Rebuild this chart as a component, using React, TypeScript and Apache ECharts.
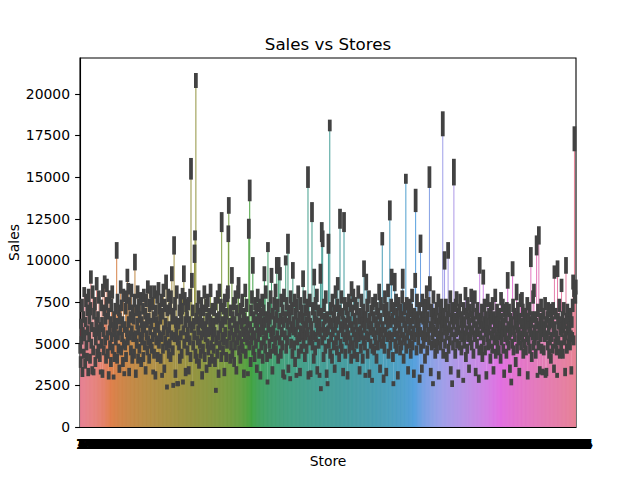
import { useEffect, useRef } from "react";
import * as echarts from "echarts";

// mean sales per store, in hundreds (store 1 .. 1115)
const salesMean = [
  47, 39, 62, 52, 73, 33, 57, 66, 44, 81, 55, 38, 63, 76, 49, 42, 70, 58, 33, 79,
  54, 65, 41, 71, 90, 50, 60, 34, 81, 46, 33, 68, 57, 74, 39, 52, 63, 86, 44, 58,
  66, 47, 78, 55, 42, 60, 33, 73, 50, 63, 32, 82, 57, 46, 70, 87, 52, 65, 41, 74,
  85, 55, 44, 68, 31, 78, 58, 49, 63, 39, 73, 54, 81, 47, 60, 30, 66, 42, 57, 71,
  52, 62, 106, 41, 76, 55, 47, 70, 35, 65, 58, 84, 46, 73, 54, 63, 39, 79, 50, 32,
  60, 49, 71, 42, 78, 57, 91, 52, 83, 63, 33, 74, 55, 66, 46, 82, 58, 41, 70, 54,
  65, 44, 76, 99, 55, 32, 70, 50, 62, 81, 41, 58, 73, 47, 66, 54, 77, 39, 63, 52,
  57, 71, 42, 79, 60, 49, 68, 34, 76, 55, 63, 46, 84, 52, 65, 41, 73, 58, 50, 81,
  62, 47, 74, 54, 33, 66, 44, 81, 57, 31, 70, 52, 63, 78, 42, 60, 83, 50, 71, 55,
  65, 41, 76, 54, 31, 68, 47, 82, 58, 35, 73, 52, 62, 87, 49, 24, 70, 57, 79, 44,
  60, 50, 71, 42, 78, 55, 92, 65, 46, 25, 68, 109, 54, 74, 32, 63, 57, 81, 26, 52,
  26, 62, 49, 70, 41, 76, 55, 65, 44, 71, 80, 27, 58, 92, 50, 77, 63, 33, 73, 54,
  66, 46, 57, 74, 34, 63, 52, 79, 42, 155, 60, 88, 26, 70, 49, 62, 55, 104, 115, 44,
  208, 65, 41, 71, 52, 58, 78, 38, 63, 50, 68, 44, 74, 55, 31, 62, 47, 70, 57, 81,
  42, 60, 54, 73, 35, 65, 50, 76, 46, 57, 68, 39, 63, 82, 49, 58, 41, 71, 54, 62,
  47, 70, 57, 39, 74, 22, 52, 65, 44, 78, 55, 32, 66, 82, 49, 60, 73, 42, 123, 54,
  63, 46, 71, 52, 33, 76, 57, 65, 42, 68, 50, 79, 81, 116, 133, 55, 62, 41, 70, 49,
  58, 91, 44, 66, 54, 74, 39, 63, 49, 78, 57, 34, 70, 52, 60, 81, 85, 46, 65, 55,
  41, 71, 50, 62, 76, 47, 57, 68, 32, 65, 54, 82, 44, 58, 73, 52, 63, 32, 55, 119,
  49, 142, 60, 39, 70, 52, 78, 57, 97, 46, 66, 55, 42, 74, 63, 50, 71, 35, 60, 79,
  54, 65, 44, 73, 57, 31, 68, 49, 62, 76, 41, 58, 70, 52, 92, 63, 47, 81, 55, 66,
  42, 27, 108, 60, 71, 50, 65, 44, 78, 57, 91, 54, 34, 68, 58, 47, 74, 63, 52, 82,
  46, 66, 97, 55, 73, 41, 97, 62, 52, 92, 65, 44, 76, 57, 49, 70, 32, 63, 79, 30,
  55, 66, 100, 47, 74, 52, 62, 110, 35, 70, 57, 65, 29, 78, 50, 60, 71, 44, 94, 58,
  63, 49, 76, 39, 68, 57, 31, 73, 52, 62, 81, 44, 66, 54, 33, 74, 58, 47, 70, 55,
  65, 89, 50, 60, 78, 42, 70, 55, 63, 47, 73, 57, 150, 31, 66, 52, 76, 62, 32, 54,
  60, 129, 49, 71, 55, 41, 90, 66, 46, 74, 54, 63, 79, 34, 58, 70, 50, 62, 31, 57,
  92, 23, 68, 117, 52, 113, 60, 42, 73, 55, 65, 47, 78, 57, 32, 66, 26, 58, 110, 50,
  63, 181, 44, 71, 54, 62, 41, 76, 57, 66, 49, 70, 35, 60, 81, 52, 63, 46, 73, 86,
  55, 65, 42, 70, 125, 50, 60, 78, 47, 68, 57, 33, 63, 123, 54, 74, 44, 62, 71, 52,
  58, 31, 66, 55, 76, 47, 63, 73, 52, 41, 83, 60, 70, 49, 79, 57, 44, 65, 54, 74,
  62, 50, 71, 42, 57, 81, 54, 65, 34, 68, 58, 47, 76, 55, 63, 41, 70, 52, 95, 60,
  49, 31, 66, 87, 55, 73, 44, 62, 54, 78, 32, 65, 58, 50, 70, 60, 28, 47, 74, 57,
  66, 46, 55, 76, 52, 63, 41, 71, 58, 49, 68, 60, 81, 54, 35, 65, 74, 50, 57, 113,
  60, 52, 29, 70, 47, 78, 57, 65, 33, 71, 54, 62, 82, 44, 66, 55, 130, 49, 63, 73,
  90, 54, 65, 42, 26, 71, 57, 87, 50, 62, 76, 47, 68, 55, 31, 63, 74, 52, 60, 46,
  70, 57, 49, 66, 78, 89, 54, 41, 63, 71, 52, 60, 149, 47, 74, 55, 65, 34, 68, 58,
  50, 73, 62, 44, 70, 55, 79, 49, 65, 58, 32, 68, 54, 88, 136, 63, 46, 76, 57, 66,
  52, 62, 71, 29, 57, 110, 47, 66, 35, 76, 55, 65, 50, 70, 60, 41, 73, 54, 63, 81,
  46, 66, 57, 74, 52, 150, 86, 60, 33, 70, 49, 63, 55, 26, 78, 58, 50, 68, 44, 65,
  57, 71, 47, 62, 52, 76, 31, 65, 55, 70, 49, 60, 73, 54, 63, 182, 44, 68, 58, 100,
  50, 63, 73, 55, 42, 66, 58, 106, 47, 70, 60, 52, 78, 34, 65, 57, 26, 71, 49, 62,
  153, 54, 65, 44, 73, 57, 77, 50, 62, 68, 32, 58, 70, 49, 76, 55, 63, 46, 66, 54,
  60, 28, 71, 50, 63, 55, 80, 42, 68, 58, 47, 74, 54, 65, 35, 62, 70, 52, 57, 79,
  49, 66, 58, 73, 44, 63, 54, 78, 55, 33, 68, 60, 50, 71, 57, 65, 29, 46, 97, 62,
  55, 65, 47, 70, 42, 60, 90, 52, 63, 73, 46, 57, 66, 31, 62, 54, 76, 49, 58, 68,
  50, 62, 41, 71, 55, 65, 47, 74, 57, 34, 66, 52, 60, 79, 44, 63, 54, 70, 49, 58,
  63, 46, 68, 55, 60, 41, 77, 52, 65, 57, 73, 47, 62, 32, 70, 54, 58, 66, 44, 71,
  52, 88, 60, 49, 70, 55, 35, 65, 57, 27, 63, 50, 95, 73, 46, 58, 68, 54, 62, 39,
  66, 81, 47, 60, 71, 52, 57, 33, 65, 55, 76, 49, 62, 77, 54, 70, 44, 58, 63, 50,
  57, 68, 46, 62, 54, 74, 31, 65, 52, 60, 71, 47, 57, 102, 63, 42, 66, 55, 78, 49,
  82, 58, 52, 66, 44, 62, 109, 55, 31, 70, 49, 115, 60, 34, 65, 54, 73, 47, 63, 33,
  57, 68, 46, 60, 54, 74, 32, 63, 33, 55, 66, 49, 71, 58, 44, 62, 52, 70, 41, 65,
  54, 63, 47, 71, 57, 35, 93, 60, 50, 68, 55, 46, 31, 95, 65, 52, 62, 73, 44, 58,
  63, 49, 85, 57, 66, 44, 60, 71, 52, 62, 33, 55, 97, 65, 47, 70, 58, 50, 63, 54,
  60, 49, 68, 55, 34, 63, 54, 73, 87, 52, 82, 173, 80, 78, 84,
];

// half width of the confidence interval per store, in hundreds
const salesCi = [
  3, 3.5, 3, 2.5, 4, 3, 3, 3.5, 3, 3, 3.5, 3, 3, 4, 3, 2.5, 3.5, 3, 2.5, 4,
  3, 3.5, 3, 4, 4, 3, 3, 2.5, 4, 3, 2, 3.5, 3, 4, 3, 3, 3, 4, 3, 3.5,
  3.5, 3, 4, 3, 3, 3, 1.5, 3.5, 3, 3, 2.5, 4, 3, 3, 3.5, 4, 3, 3.5, 3, 4,
  4, 3, 3, 3.5, 2.5, 4, 3, 3, 3.5, 3, 4, 3, 4, 3, 3, 1.5, 3.5, 3, 3, 3.5,
  3, 3.5, 5, 3, 4, 3, 3, 3.5, 2.5, 3.5, 3, 4, 3, 3.5, 3, 3.5, 3, 4, 3, 1.5,
  3.5, 3, 3.5, 3, 4, 3, 4, 3, 3.5, 3.5, 2.5, 4, 3, 3.5, 3, 4, 3, 3, 3.5, 3,
  3.5, 3, 4, 5, 3, 2.5, 3.5, 3, 3.5, 4, 3, 3, 4, 3, 3.5, 3, 4, 3, 3.5, 3,
  3, 3.5, 3, 4, 3.5, 3, 3.5, 2.5, 4, 3, 3.5, 3, 4, 3, 3.5, 3, 4, 3, 3, 4,
  3.5, 3, 4, 3, 1.5, 3.5, 3, 4, 3, 2.5, 3.5, 3, 3.5, 4, 3, 3.5, 4, 3, 3.5, 3,
  3.5, 3, 4, 3, 1.5, 3.5, 3, 4, 3, 2.5, 4, 3, 3.5, 4.5, 3, 1.5, 3.5, 3, 4, 3,
  3.5, 3, 3.5, 3, 4, 3, 4.5, 3.5, 3, 1.5, 3.5, 5.5, 3, 4, 2.5, 3.5, 3, 4, 1.5, 3,
  1.5, 3.5, 3, 3.5, 3, 4, 3, 3.5, 3, 3.5, 3.5, 1.5, 3, 5, 3, 4, 3.5, 2.5, 4, 3,
  3.5, 3, 3, 4, 2.5, 3.5, 3, 4, 3, 6.5, 3.5, 4.5, 1.5, 3.5, 3, 3.5, 3, 5.5, 3, 3,
  4.5, 3.5, 3, 3.5, 3, 3, 4, 3, 3.5, 3, 3.5, 3, 4, 3, 2.5, 3.5, 3, 3.5, 3, 4,
  3, 3.5, 3, 4, 2.5, 3.5, 3, 4, 3, 3, 3.5, 3, 3.5, 4, 3, 3, 3, 3.5, 3, 3.5,
  3, 3.5, 3, 3, 4, 1.5, 3, 3.5, 3, 4, 3, 2.5, 3.5, 4, 3, 3.5, 4, 3, 6, 3,
  3.5, 3, 3.5, 3, 2.5, 4, 3, 3.5, 3, 3.5, 3, 4, 4, 5, 5, 3, 3.5, 3, 3.5, 3,
  3, 5, 3, 3.5, 3, 4, 3, 3.5, 3, 4, 3, 2.5, 3.5, 3, 3.5, 4, 5, 3, 3.5, 3,
  3, 3.5, 3, 3.5, 4, 3, 3, 3.5, 2.5, 3.5, 3, 4, 3, 3, 4, 3, 3.5, 1.5, 3, 6,
  3, 6.5, 3.5, 3, 3.5, 3, 4, 3, 5, 3, 3.5, 3, 3, 4, 3.5, 3, 3.5, 2.5, 3.5, 4,
  3, 3.5, 3, 4, 3, 2.5, 3.5, 3, 3.5, 4, 3, 3, 3.5, 3, 4.5, 3.5, 3, 4, 3, 3.5,
  3, 1.5, 3, 3.5, 4, 3, 3.5, 3, 4, 3, 4.5, 3, 2.5, 3.5, 3, 3, 4, 3.5, 3, 4,
  3, 3.5, 5, 3, 4, 3, 5, 3.5, 3, 4, 3.5, 3, 4, 3, 3, 3.5, 2.5, 3.5, 4, 1.5,
  3, 3.5, 3, 3, 4, 3, 3.5, 6, 2.5, 3.5, 3, 3.5, 1.5, 4, 3, 3.5, 4, 3, 5, 3,
  3.5, 3, 4, 3, 3.5, 3, 1.5, 4, 3, 3.5, 4, 3, 3.5, 3, 2.5, 4, 3, 3, 3.5, 3,
  3.5, 5, 3, 3.5, 4, 3, 3.5, 3, 3.5, 3, 4, 3, 6.5, 2.5, 3.5, 3, 4, 3.5, 2, 3,
  3.5, 6, 3, 4, 3, 3, 5, 3.5, 3, 4, 3, 3.5, 4, 2.5, 3, 3.5, 3, 3.5, 1.5, 3,
  6, 1.5, 3.5, 6, 3, 5, 3.5, 3, 4, 3, 3.5, 3, 4, 3, 2.5, 3.5, 1.5, 3, 6, 3,
  3.5, 3.5, 3, 4, 3, 3.5, 3, 4, 3, 3.5, 3, 3.5, 2.5, 3.5, 4, 3, 3.5, 3, 4, 4,
  3, 3.5, 3, 3.5, 6, 3, 3.5, 4, 3, 3.5, 3, 2.5, 3.5, 6, 3, 4, 3, 3.5, 4, 3,
  3.5, 2.5, 3.5, 3, 4, 3, 3.5, 4, 3, 3, 4.5, 3.5, 3.5, 3, 4, 3, 3, 3.5, 3, 4,
  3.5, 3, 4, 3, 3, 4, 3, 3.5, 2.5, 3.5, 3, 3, 4, 3, 3.5, 3, 4, 3, 5, 3.5,
  3, 1.5, 3.5, 5, 3, 4, 3, 3.5, 3, 4, 2.5, 3.5, 3, 3, 3.5, 3.5, 1.5, 3, 4, 3,
  3.5, 3, 3, 4, 3, 3.5, 3, 4, 3, 3, 3.5, 3.5, 5, 3, 2.5, 3.5, 4, 3, 3, 4,
  3.5, 3, 2.5, 4, 3, 4, 3, 3.5, 2.5, 4, 3, 3.5, 4, 3, 3.5, 3, 6, 3, 3.5, 4,
  5, 3, 3.5, 3, 1.5, 4, 3, 5.5, 3, 3.5, 4, 3, 3.5, 3, 2.5, 3.5, 4, 3, 3.5, 3,
  4, 3.5, 3, 3.5, 4, 6, 3, 3, 3.5, 4, 3, 3.5, 3, 3, 4, 3, 3.5, 2.5, 3.5, 3,
  3, 4, 3.5, 3, 4, 3, 4, 3, 3.5, 3, 2.5, 3.5, 3, 4.5, 7, 3.5, 3, 4, 3, 3.5,
  3, 3.5, 4, 2.5, 3, 5.5, 3, 3.5, 2.5, 4, 3, 3.5, 3, 4, 3.5, 3, 4, 3, 3.5, 4,
  3, 3.5, 3, 4, 3, 6.5, 4.5, 3.5, 2.5, 4, 3, 3.5, 3, 1.5, 4, 3.5, 3, 3.5, 3, 3.5,
  3, 4, 3, 3.5, 3, 4, 2.5, 3.5, 3, 4, 3, 3.5, 4, 3, 3.5, 7.5, 3, 3.5, 3, 5.5,
  3, 3.5, 4, 3, 3, 3.5, 3, 5, 3, 4, 3.5, 3, 4, 2.5, 3.5, 3, 2, 4, 3, 3.5,
  8, 3, 3.5, 3, 4, 3, 4.5, 3, 3.5, 3.5, 2.5, 3, 4, 3, 4, 3, 3.5, 3, 3.5, 3,
  3.5, 1.5, 4, 3, 3.5, 3, 4, 3, 3.5, 3, 3, 4, 3, 3.5, 2.5, 3.5, 4, 3, 3, 4,
  3, 3.5, 3, 4, 3, 3.5, 3, 4, 3, 2.5, 3.5, 3.5, 3, 4, 3, 3.5, 2.5, 3, 5, 3.5,
  3, 3.5, 3, 4, 3, 3.5, 4.5, 3, 3.5, 4, 3, 3, 3.5, 2.5, 3.5, 3, 4, 3, 3, 3.5,
  3, 3.5, 3, 4, 3, 3.5, 3, 4, 3, 2.5, 3.5, 3, 3.5, 4, 3, 3.5, 3, 4, 3, 3,
  3.5, 3, 3.5, 3, 3.5, 3, 4, 3, 3.5, 3, 4, 3, 3.5, 2.5, 4, 3, 3, 3.5, 3, 4,
  3, 5, 3.5, 3, 4, 3, 2.5, 3.5, 3, 2, 3.5, 3, 4.5, 4, 3, 3, 3.5, 3, 3.5, 3,
  3.5, 5, 3, 3.5, 4, 3, 3, 2.5, 3.5, 3, 4, 3, 3.5, 4, 3, 4, 3, 3, 3.5, 3,
  3, 3.5, 3, 3.5, 3, 4, 2.5, 3.5, 3, 3.5, 4, 3, 3, 6, 3.5, 3, 3.5, 3, 4, 3,
  4, 3.5, 3, 3.5, 3, 3.5, 6, 3, 1.5, 4, 3, 5.5, 3.5, 2.5, 3.5, 3, 4, 3, 3.5, 2,
  3, 3.5, 3, 3.5, 3, 4, 2.5, 3.5, 2.5, 3, 3.5, 3, 4, 3, 3, 3.5, 3, 4, 3, 3.5,
  3, 3.5, 3, 4, 3, 2.5, 4, 3.5, 3, 3.5, 3, 3, 1.5, 5, 3.5, 3, 3.5, 4, 3, 3,
  3.5, 3, 4, 3, 3.5, 3, 3.5, 4, 3, 3.5, 2.5, 3, 5, 3.5, 3, 4, 3, 3, 3.5, 3,
  3.5, 3, 3.5, 3, 2.5, 3.5, 3, 4, 4.5, 3, 4, 7.5, 4, 4, 4.5,
];

const storeIds = salesMean.map((_, i) => String(i + 1));
const yTicks = [0, 2500, 5000, 7500, 10000, 12500, 15000, 17500, 20000];

// seaborn-like husl palette, desaturated to 0.75
const M = [
  [3.2406, -1.5372, -0.4986],
  [-0.9689, 1.8758, 0.0415],
  [0.0557, -0.204, 1.057],
];
const REF_U = 0.19784;
const REF_V = 0.46834;

function maxChroma(L: number, H: number) {
  const hrad = (H / 180) * Math.PI;
  const sinH = Math.sin(hrad);
  const cosH = Math.cos(hrad);
  const sub1 = Math.pow(L + 16, 3) / 1560896;
  const sub2 = sub1 > 0.008856 ? sub1 : L / 903.3;
  let result = Infinity;
  for (const [m1, m2, m3] of M) {
    const top = (0.99915 * m1 + 1.05122 * m2 + 1.1446 * m3) * sub2;
    const rbottom = 0.8633 * m3 - 0.17266 * m2;
    const lbottom = 0.12949 * m3 - 0.38848 * m1;
    const bottom = (rbottom * sinH + lbottom * cosH) * sub2;
    for (const t of [0, 1]) {
      const C = (L * (top - 1.05122 * t)) / (bottom + 0.17266 * sinH * t);
      if (C > 0 && C < result) result = C;
    }
  }
  return result;
}

function huslToRgb(H: number, S: number, L: number) {
  const C = (maxChroma(L, H) / 100) * S;
  const hrad = (H / 180) * Math.PI;
  const U = Math.cos(hrad) * C;
  const V = Math.sin(hrad) * C;
  const t = (L + 16) / 116;
  const varY = Math.pow(t, 3) > 0.008856 ? Math.pow(t, 3) : (116 * t - 16) / 903.3;
  const varU = U / (13 * L) + REF_U;
  const varV = V / (13 * L) + REF_V;
  const Y = varY;
  const X = 0 - (9 * Y * varU) / ((varU - 4) * varV - varU * varV);
  const Z = (9 * Y - 15 * varV * Y - varV * X) / (3 * varV);
  return M.map((row) => {
    const c = row[0] * X + row[1] * Y + row[2] * Z;
    const v = c <= 0.0031308 ? 12.92 * c : 1.055 * Math.pow(c, 1 / 2.4) - 0.055;
    return Math.min(1, Math.max(0, v));
  });
}

function barColor(i: number, n: number) {
  const h = ((i / n + 0.01) % 1) * 359;
  const rgb = huslToRgb(h, 0.9 * 99, 0.65 * 99);
  const light = (Math.max(...rgb) + Math.min(...rgb)) / 2;
  const out = rgb.map((c) => Math.round((light + 0.75 * (c - light)) * 255));
  return `rgb(${out[0]},${out[1]},${out[2]})`;
}

export default function App() {
  const chartRef = useRef<HTMLDivElement>(null);

  useEffect(() => {
    if (!chartRef.current) return;
    const chart = echarts.init(chartRef.current, null, { renderer: "svg" });
    const n = salesMean.length;
    const font = "DejaVu Sans";

    const option: echarts.EChartsOption = {
      animation: false,
      title: {
        text: "Sales vs Stores",
        left: 328,
        top: 35,
        padding: 0,
        textAlign: "center",
        textStyle: { fontFamily: font, fontSize: 16.7, fontWeight: "normal", color: "#000" },
      },
      grid: {
        left: 80,
        right: 64,
        top: 58,
        bottom: 53,
        show: true,
        borderColor: "#000",
        borderWidth: 1.1,
        containLabel: false,
        outerBoundsMode: "none",
      } as any,
      xAxis: {
        type: "category",
        data: storeIds,
        name: "Store",
        nameLocation: "middle",
        nameGap: 27,
        nameMoveOverlap: false,
        nameTextStyle: { fontFamily: font, fontSize: 13.9, color: "#000" },
        axisLine: { lineStyle: { color: "#000", width: 1.1 } },
        axisTick: { interval: 0, alignWithLabel: true, length: 4.9, lineStyle: { color: "#000", width: 1.1 } },
        axisLabel: {
          interval: 0,
          hideOverlap: false,
          margin: 10,
          fontFamily: font,
          fontSize: 13.9,
          color: "#000",
        },
        splitLine: { show: false },
      } as any,
      yAxis: {
        type: "value",
        min: 0,
        max: 22150,
        name: "Sales",
        nameLocation: "middle",
        nameGap: 59,
        nameMoveOverlap: false,
        nameTextStyle: { fontFamily: font, fontSize: 13.9, color: "#000" },
        axisLine: { show: true, lineStyle: { color: "#000", width: 1.1 } },
        axisTick: { show: true, length: 4.9, customValues: yTicks, lineStyle: { color: "#000", width: 1.1 } },
        axisLabel: {
          customValues: yTicks,
          formatter: (v: number) => String(v),
          margin: 10,
          fontFamily: font,
          fontSize: 13.9,
          color: "#000",
        },
        splitLine: { show: false },
      } as any,
      series: [
        {
          type: "bar",
          barCategoryGap: "20%",
          progressive: 0,
          data: salesMean.map((m, i) => ({
            value: m * 100,
            itemStyle: { color: barColor(i, n) },
          })),
        },
        {
          type: "custom",
          z: 5,
          progressive: 0,
          encode: { x: 0, y: [1, 2] },
          data: salesMean.map((m, i) => [i, (m - salesCi[i]) * 100, (m + salesCi[i]) * 100]),
          renderItem: (_params: any, api: any) => {
            const x = api.value(0);
            const p1 = api.coord([x, api.value(1)]);
            const p2 = api.coord([x, api.value(2)]);
            return {
              type: "line",
              shape: { x1: p1[0], y1: p1[1], x2: p2[0], y2: p2[1] },
              style: { stroke: "#424242", lineWidth: 3.75 },
            };
          },
        } as any,
      ],
    };

    chart.setOption(option);
    return () => chart.dispose();
  }, []);

  return (
    <div
      ref={chartRef}
      style={{ position: "absolute", left: 0, top: 0, width: 640, height: 480, background: "#fff" }}
    />
  );
}
